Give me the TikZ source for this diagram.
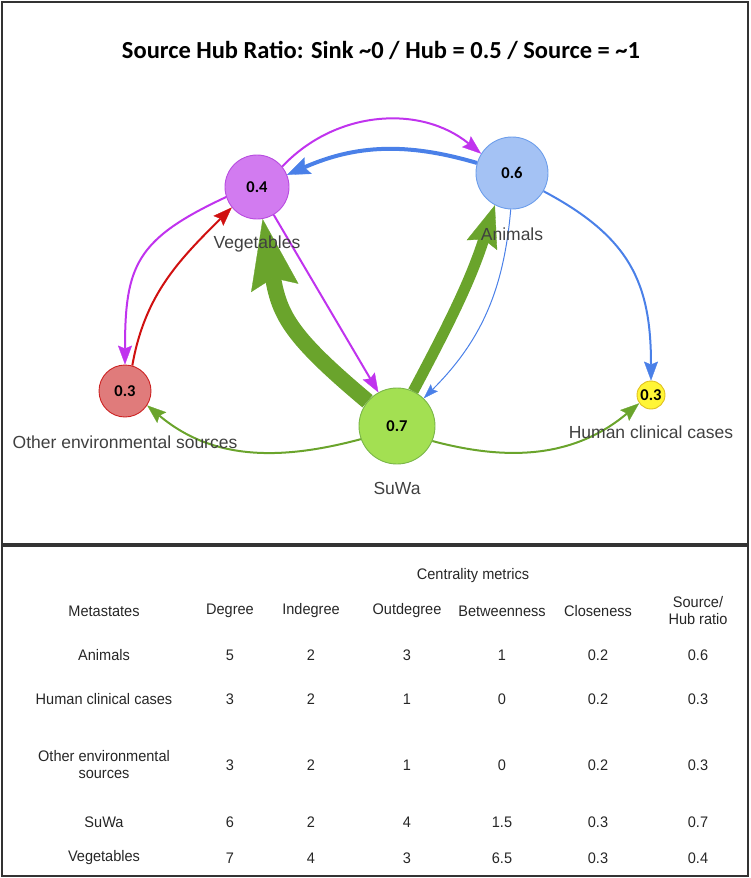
\documentclass[tikz,border=0pt]{standalone}
\usepackage{fontspec}
\setmainfont{Liberation Sans}
\newfontfamily\calibri{Carlito}
\newfontfamily\tablefont[FakeStretch=0.95]{Liberation Sans}
\usetikzlibrary{positioning,arrows.meta}
\definecolor{framegray}{HTML}{333333}
\definecolor{labelgray}{HTML}{404040}
\definecolor{tablegray}{HTML}{262626}
\definecolor{vegfill}{HTML}{D27BF0}
\definecolor{vegdraw}{HTML}{B84CE0}
\definecolor{magentaflow}{HTML}{C033EE}
\definecolor{anifill}{HTML}{A4C2F4}
\definecolor{anidraw}{HTML}{6D9EEB}
\definecolor{blueflow}{HTML}{4A80E8}
\definecolor{suwafill}{HTML}{A3E052}
\definecolor{suwadraw}{HTML}{7AB648}
\definecolor{greenflow}{HTML}{6AA42C}
\definecolor{othfill}{HTML}{E07B7B}
\definecolor{othdraw}{HTML}{CC2222}
\definecolor{redflow}{HTML}{D01010}
\definecolor{humfill}{HTML}{FFF536}
\definecolor{humdraw}{HTML}{E0C020}

\begin{document}
\begin{tikzpicture}[
    x=1pt, y=1pt,
    node distance=16pt,
    metastate/.style={circle, line width=0.9pt, inner sep=0pt,
      font=\calibri\bfseries\fontsize{16.5}{17}\selectfont},
    caption/.style={inner sep=0pt, text=labelgray,
      font=\fontsize{17.5}{20}\selectfont},
    cell/.style={inner sep=0pt, align=center, text=tablegray,
      font=\tablefont\fontsize{15.3}{17}\selectfont},
    flowthin/.style={-{Stealth[length=15pt, width=10pt, inset=2.5pt, line width=0.3pt]}, line width=1pt},
    flow/.style={-{Stealth[length=19pt, width=14pt, inset=3pt, line width=0.3pt]}, line width=2pt},
    flowwide/.style={-{Stealth[length=23pt, width=18pt, inset=4pt, line width=0.3pt]}, line width=4pt},
    flowbold/.style={-{Stealth[length=42pt, width=32pt, inset=6pt, line width=0.3pt]}, line width=11pt},
    flowheavy/.style={-{Stealth[length=70pt, width=48pt, inset=10pt, line width=0.3pt]}, line width=16pt}
  ]
    \useasboundingbox (0,0) rectangle (750,-878);
    % panels
    \draw[framegray, line width=2pt] (2,-2) rectangle (748,-544);
    \draw[framegray, line width=2pt] (2,-546) rectangle (748,-876);

    \node[font=\calibri\bfseries\fontsize{24.5}{28}\selectfont] (title) at (381,-50)
      {Source Hub Ratio: Sink \textasciitilde0 / Hub = 0.5 / Source = \textasciitilde1};

    % network
    \node[metastate, fill=vegfill, draw=vegdraw, minimum size=64pt]  (veg)  at (257,-187) {0.4};
    \node[metastate, fill=anifill, draw=anidraw, minimum size=72pt]  (ani)  at (512,-173) {0.6};
    \node[metastate, fill=othfill, draw=othdraw, minimum size=52pt]  (oth)  at (125,-391) {0.3};
    \node[metastate, fill=suwafill, draw=suwadraw, minimum size=76pt] (suwa) at (397,-426) {0.7};
    \node[metastate, fill=humfill, draw=humdraw, minimum size=28pt]  (hum)  at (651,-395) {0.3};

    \draw[flow, magentaflow]  (veg.39)   to[bend left=43] (ani.148);
    \draw[flowwide, blueflow] (ani.164)  to[bend right=20] (veg.22);
    \draw[flow, blueflow]     (ani.-30)  to[out=-28, in=90, looseness=1.15] (hum.north);
    \draw[flowthin, blueflow] (ani.-92)  to[out=-95, in=45] (suwa.46);
    \draw[flowbold, greenflow]  (suwa.65)  to[out=62, in=-108] (ani.242);
    \draw[flowheavy, greenflow] (suwa.140) to[out=140, in=-80, looseness=1.2] (veg.-80);
    \draw[flow, magentaflow]  (veg.-59)  -- (suwa.119);
    \draw[flow, magentaflow]  (veg.198)  to[out=205, in=90, looseness=1.3] (oth.90);
    \draw[flow, redflow]      (oth.74)   to[out=80, in=225] (veg.219);
    \draw[flow, greenflow]    (suwa.200) to[out=195, in=-40] (oth.-33);
    \draw[flow, greenflow]    (suwa.-23) to[out=-15, in=220] (hum.215);

    \node[caption, below=of veg]       (vegname)  {Vegetables};
    \node[caption, below=18pt of ani]  (aniname)  {Animals};
    \node[caption, below=18pt of oth]  (othname)  {Other environmental sources};
    \node[caption, below=18pt of suwa] (suwaname) {SuWa};
    \node[caption, below=of hum]       (humname)  {Human clinical cases};

    % table
    \node[cell] (centrality) at (473,-576) {Centrality metrics};
    \node[cell] (hmeta)  at (104,-611) {Metastates};
    \node[cell] (hdeg)   at (230,-611) {Degree};
    \node[cell] (hin)    at (311,-611) {Indegree};
    \node[cell] (hout)   at (407,-611) {Outdegree};
    \node[cell] (hbtw)   at (502,-611) {Betweenness};
    \node[cell] (hclo)   at (598,-611) {Closeness};
    \node[cell] (hratio) at (698,-611) {Source/\\Hub ratio};

    \foreach \r/\y/\meta/\dg/\ig/\og/\bt/\cl/\sh in {
        1/655/Animals/5/2/3/1/0.2/0.6,
        2/699/Human clinical cases/3/2/1/0/0.2/0.3,
        3/765/{Other environmental\\sources}/3/2/1/0/0.2/0.3,
        4/822/SuWa/6/2/4/1.5/0.3/0.7,
        5/858/Vegetables/7/4/3/6.5/0.3/0.4}{
      \node[cell] (meta\r)  at (104,-\y) {\meta};
      \node[cell] (deg\r)   at (230,-\y) {\dg};
      \node[cell] (in\r)    at (311,-\y) {\ig};
      \node[cell] (out\r)   at (407,-\y) {\og};
      \node[cell] (btw\r)   at (502,-\y) {\bt};
      \node[cell] (clo\r)   at (598,-\y) {\cl};
      \node[cell] (ratio\r) at (698,-\y) {\sh};
    }
  \end{tikzpicture}
\end{document}
